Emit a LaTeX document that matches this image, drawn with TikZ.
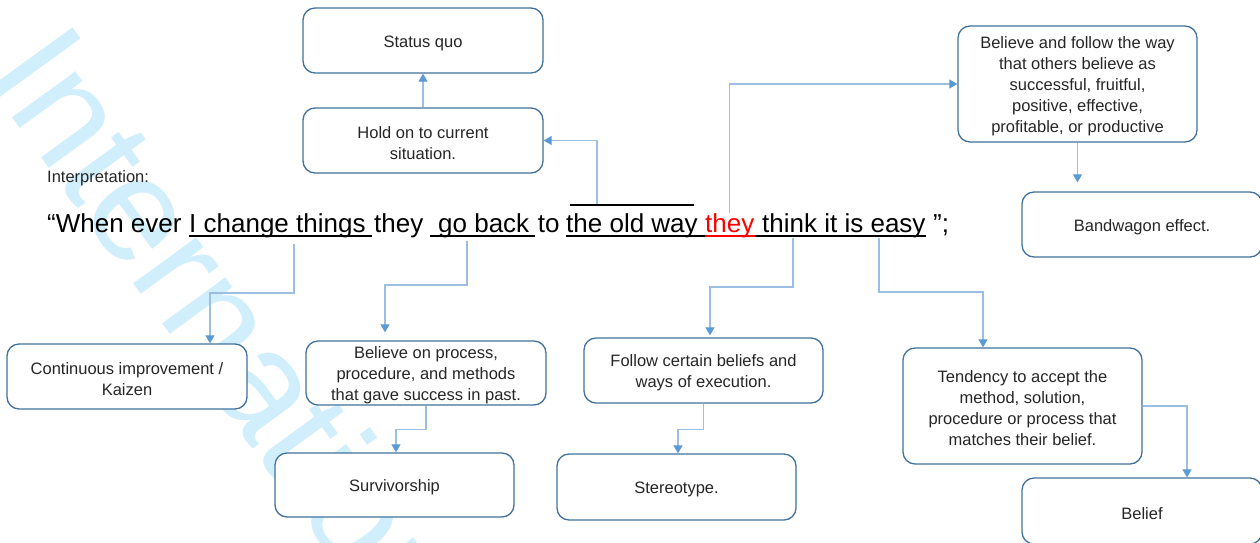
\documentclass[tikz,border=0pt]{standalone}
\usepackage{fontspec}
\setmainfont{Liberation Sans}
\usetikzlibrary{arrows.meta}
\definecolor{boxblue}{RGB}{65,113,156}
\definecolor{lineblue}{RGB}{157,190,228}
\definecolor{arrowblue}{RGB}{91,155,213}
\definecolor{txtgray}{RGB}{38,38,38}
\definecolor{wmark}{RGB}{208,238,252}
\definecolor{redtxt}{RGB}{255,0,0}
\begin{document}
\begin{tikzpicture}[x=1pt,y=-1pt,
  box/.style={draw=boxblue, line width=1.3pt, rounded corners=12pt, fill=white,
    inner sep=0pt},
  btext/.style={align=center, inner sep=0pt, text=txtgray, yshift=-2.5pt,
    font=\fontsize{16.5}{21}\selectfont},
  conn/.style={draw=lineblue, line width=1.1pt,
    -{Triangle[length=8pt,width=9pt,color=arrowblue]}},
  sent/.style={anchor=base west, inner sep=0pt, font=\fontsize{26}{30}\selectfont},
  uline/.style={line width=1.8pt},
  ]
\useasboundingbox (0,0) rectangle (1260,542);
\clip (0,0) rectangle (1260,542);
% watermark
\node[anchor=base west, rotate=-54, text=wmark, inner sep=0pt,
  font=\fontsize{148}{150}\selectfont] (wm) at (-18,76) {International};

% boxes
\node[box, minimum width=240pt, minimum height=65pt,
  label={[btext]center:Status quo}] (sq) at (423,40.5) {};
\node[box, minimum width=240pt, minimum height=65pt,
  label={[btext]center:{Hold on to current\\situation.}}] (hold) at (423,140.5) {};
\node[box, minimum width=239pt, minimum height=116pt,
  label={[btext]center:{Believe and follow the way\\that others believe as\\successful, fruitful,\\positive, effective,\\profitable, or productive}}] (bfw) at (1077.5,84) {};
\node[box, minimum width=240pt, minimum height=65pt,
  label={[btext]center:Bandwagon effect.}] (band) at (1142,224.5) {};
\node[box, minimum width=240pt, minimum height=65pt,
  label={[btext]center:{Continuous improvement /\\Kaizen}}] (cont) at (127,376.5) {};
\node[box, minimum width=240pt, minimum height=64pt,
  label={[btext]center:{Believe on process,\\procedure, and methods\\that gave success in past.}}] (bop) at (426,373) {};
\node[box, minimum width=239pt, minimum height=65pt,
  label={[btext]center:{Follow certain beliefs and\\ways of execution.}}] (fol) at (703.5,370.5) {};
\node[box, minimum width=239pt, minimum height=116pt,
  label={[btext]center:{Tendency to accept the\\method, solution,\\procedure or process that\\matches their belief.}}] (tend) at (1022.5,406) {};
\node[box, minimum width=239pt, minimum height=64pt,
  label={[btext]center:Survivorship}] (surv) at (394.5,485) {};
\node[box, minimum width=239pt, minimum height=66pt,
  label={[btext]center:Stereotype.}] (ster) at (676.5,487) {};
\node[box, minimum width=240pt, minimum height=66pt,
  label={[btext]center:Belief}] (bel) at (1142,511) {};

% texts
\node[anchor=base west, inner sep=0pt, text=txtgray, font=\fontsize{16.5}{20}\selectfont] (interp) at (47,182) {Interpretation:};
\node[sent] (n1) at (47,232) {“When ever};
\node[sent] (n2) at (189,232) {I change things};
\node[sent] (n3) at (374,232) {they};
\node[sent] (n4) at (438,232) {go back};
\node[sent] (n5) at (537.6,232) {to};
\node[sent] (n6) at (566,232) {the old way};
\node[sent, text=redtxt] (n7) at (705,232) {they};
\node[sent] (n8) at (762,232) {think it is easy};
\node[sent] (n9) at (933,232) {”;};

% underlines and overline
\draw[uline] ([yshift=-4pt]n2.base west) -- ([yshift=-4pt,xshift=6pt]n2.base east);
\draw[uline] ([yshift=-4pt,xshift=-8pt]n4.base west) -- ([yshift=-4pt,xshift=6pt]n4.base east);
\draw[uline] ([yshift=-4pt]n6.base west) -- ([yshift=-4pt]n8.base east);
\draw[uline, redtxt] ([yshift=-4pt]n7.base west) -- ([yshift=-4pt]n7.base east);
\coordinate (ol1) at (570,205);
\coordinate (ol2) at (694,205);
\draw[uline] (ol1) -- (ol2);

% connector start points
\coordinate (ovl) at (597,204);
\coordinate (c1) at (294,244);
\coordinate (c2) at (467,241);
\coordinate (c3) at (793,238);
\coordinate (c4) at (879,238);

% connectors
\draw[conn] (hold.north) -- (sq.south);
\draw[conn] (ovl) |- (hold.east);
\draw[conn] (n7.north) |- (bfw.west);
\draw[conn, shorten >=9pt] (bfw.south) -- (bfw.south |- band.north);
\draw[conn] (c1) -- ++(0,49) -| ([xshift=83pt]cont.north);
\draw[conn, shorten >=8pt] (c2) -- ++(0,44) -| ([xshift=-41pt]bop.north);
\draw[conn, shorten >=2pt] (c3) -- ++(0,49) -| ([xshift=6.5pt]fol.north);
\draw[conn] (c4) -- ++(0,54) -| ([xshift=-39.5pt]tend.north);
\draw[conn] (bop.south) -- ++(0,24) -| ([xshift=1.5pt]surv.north);
\draw[conn] (fol.south) -- ++(0,26) -| ([xshift=1.5pt]ster.north);
\draw[conn] (tend.east) -| ([xshift=45pt]bel.north);
\end{tikzpicture}
\end{document}
